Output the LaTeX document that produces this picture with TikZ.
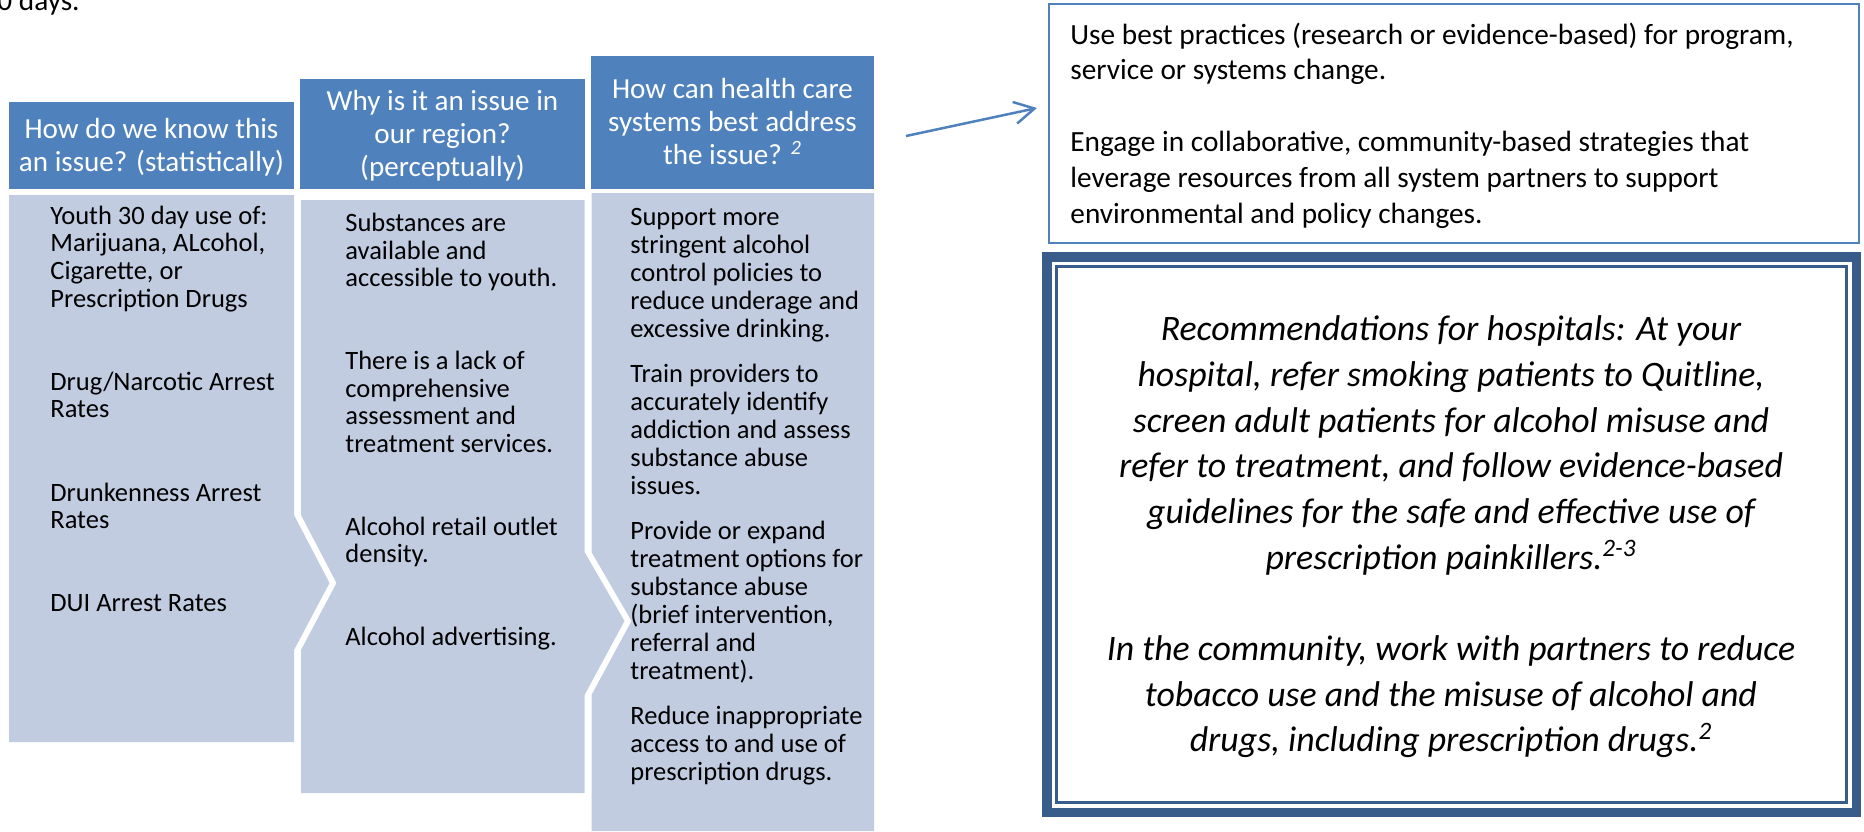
\documentclass[tikz,border=0pt]{standalone}
\usepackage{fontspec}
\setmainfont{Carlito}
\usetikzlibrary{arrows.meta}
\definecolor{hdrblue}{HTML}{4F81BD}
\definecolor{bodyblue}{RGB}{193,204,225}
\definecolor{frameblue}{HTML}{385D8A}
\begin{document}
\begin{tikzpicture}[x=0.5pt,y=-0.5pt,
  hdrfill/.style={fill=hdrblue,draw=none},
  bodyfill/.style={fill=bodyblue,draw=none},
  hdrtext/.style={text=white,align=center,inner sep=0pt,anchor=base,
    font=\fontsize{14.55}{16.5}\selectfont},
  bodytext/.style={align=left,inner sep=0pt,anchor=base west,
    font=\fontsize{13.25}{13.85}\selectfont},
  bodytextc/.style={align=left,inner sep=0pt,anchor=base west,
    font=\fontsize{13.25}{14}\selectfont},
  boxtext/.style={align=left,inner sep=0pt,anchor=base west,
    font=\fontsize{14.65}{17.9}\selectfont},
  frametext/.style={align=center,inner sep=0pt,anchor=base,
    font=\fontsize{17.9}{22.85}\selectfont\itshape},
  linkarrow/.style={draw=hdrblue,line width=1.25pt,
    -{Straight Barb[length=10pt,width=11pt,line width=1.25pt]}}
]
\useasboundingbox (0,0) rectangle (1864,831);

% partial top-left text
\node[anchor=base west,inner sep=0pt,font=\fontsize{14.65}{17.9}\selectfont] (days) at (-3,10) {0 days.};

% ---- column 1 ----
\path[hdrfill] (9,102) rectangle (294,189);
\path[bodyfill] (9,195) -- (294,195) -- (294,515) -- (329.5,583) -- (294,650)
  -- (294,742) -- (9,742) -- cycle;
% ---- column 2 ----
\path[hdrfill] (300,79) rectangle (585,189);
\path[bodyfill] (301,200) -- (584.5,200) -- (584.5,552) -- (624.5,621) -- (584.5,695)
  -- (584.5,793) -- (301,793) -- (301,650) -- (336.5,583) -- (301,515) -- cycle;
% ---- column 3 ----
\path[hdrfill] (591,56) rectangle (874,189);
\path[bodyfill] (591.5,193) -- (874,193) -- (874,831) -- (591.5,831) -- (591.5,695)
  -- (631.5,621) -- (591.5,552) -- cycle;

% header texts (anchored at the baseline of their last line)
\node[hdrtext] (h1) at (151.5,171) {How do we know this\\an issue? (statistically)};
\node[hdrtext] (h2) at (442.5,176) {Why is it an issue in\\our region?\\(perceptually)};
\node[hdrtext] (h3) at (732.5,164.5) {How can health care\\systems best address\\the issue? \textsuperscript{\itshape 2}};

% column 1 body
\node[bodytext] (c1a) at (50,307.1) {Youth 30 day use of:\\Marijuana, ALcohol,\\Cigarette, or\\Prescription Drugs};
\node[bodytext] (c1b) at (50,417.7) {Drug/Narcotic Arrest\\Rates};
\node[bodytext] (c1c) at (50,528.7) {Drunkenness Arrest\\Rates};
\node[bodytext] (c1d) at (50,611) {DUI Arrest Rates};

% column 2 body
\node[bodytext] (c2a) at (345,286.9) {Substances are\\available and\\accessible to youth.};
\node[bodytext] (c2b) at (345,452.6) {There is a lack of\\comprehensive\\assessment and\\treatment services.};
\node[bodytext] (c2c) at (345,562.7) {Alcohol retail outlet\\density.};
\node[bodytext] (c2d) at (345,645.5) {Alcohol advertising.};

% column 3 body
\node[bodytextc] (c3a) at (630,337) {Support more\\stringent alcohol\\control policies to\\reduce underage and\\excessive drinking.};
\node[bodytextc] (c3b) at (630,494) {Train providers to\\accurately identify\\addiction and assess\\substance abuse\\issues.};
\node[bodytextc] (c3c) at (630,679) {Provide or expand\\treatment options for\\substance abuse\\(brief intervention,\\referral and\\treatment).};
\node[bodytextc] (c3d) at (630,780) {Reduce inappropriate\\access to and use of\\prescription drugs.};

% top-right box
\path[draw=hdrblue,line width=1pt] (1049,4) rectangle (1859,243);
\node[boxtext] (bp1) at (1070,79.8) {Use best practices (research or evidence-based) for program,\\service or systems change.};
\node[boxtext] (bp2) at (1070,223.1) {Engage in collaborative, community-based strategies that\\leverage resources from all system partners to support\\environmental and policy changes.};

% arrow
\coordinate (arrS) at (906,136);
\coordinate (arrE) at (1037,108);
\draw[linkarrow] (arrS) -- (arrE);

% recommendations frame
\path[draw=frameblue,line width=4.75pt] (1046.75,256.75) rectangle (1856.25,812.25);
\path[draw=frameblue,line width=1.5pt] (1056.5,266.5) rectangle (1846.5,802.5);
\node[frametext] (rec1) at (1451,569.2) {Recommendations for hospitals: At your\\hospital, refer smoking patients to Quitline,\\screen adult patients for alcohol misuse and\\refer to treatment, and follow evidence-based\\guidelines for the safe and effective use of\\prescription painkillers.\textsuperscript{2-3}};
\node[frametext] (rec2) at (1451,751.9) {In the community, work with partners to reduce\\tobacco use and the misuse of alcohol and\\drugs, including prescription drugs.\textsuperscript{2}};
\end{tikzpicture}
\end{document}
